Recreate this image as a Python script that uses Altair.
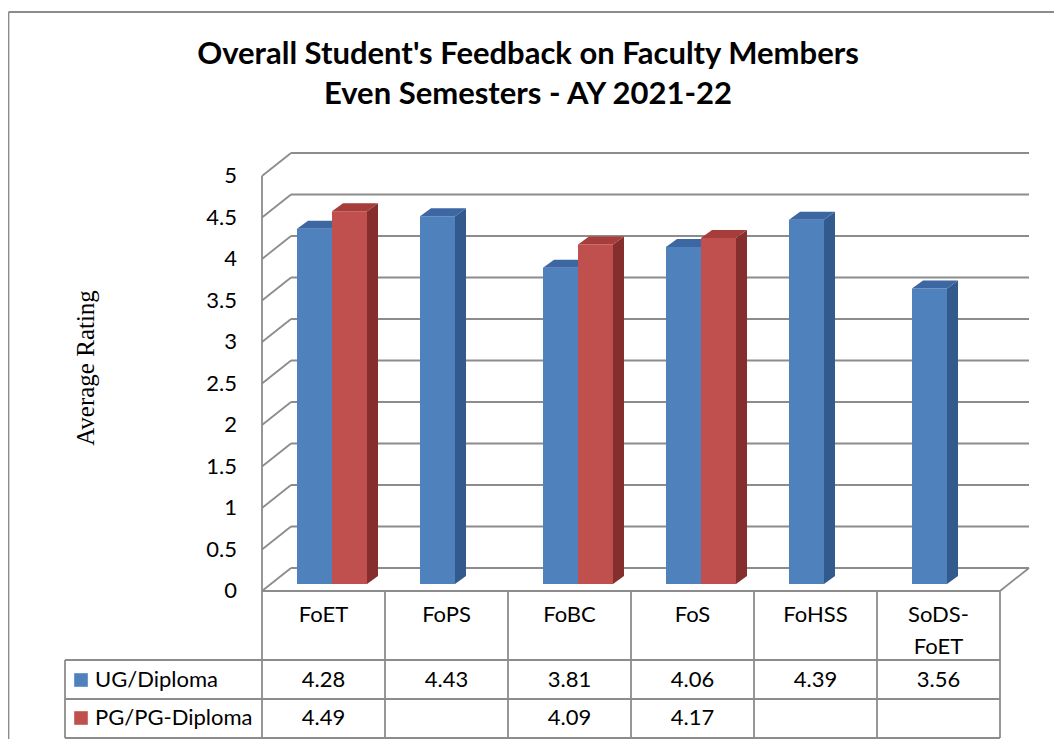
import altair as alt
import pandas as pd

# ---------------- data ----------------
categories = ["FoET", "FoPS", "FoBC", "FoS", "FoHSS", "SoDS-FoET"]
category_lines = [["FoET"], ["FoPS"], ["FoBC"], ["FoS"], ["FoHSS"], ["SoDS-", "FoET"]]
series = ["UG/Diploma", "PG/PG-Diploma"]
ug_values = [4.28, 4.43, 3.81, 4.06, 4.39, 3.56]
pg_values = [4.49, None, 4.09, 4.17, None, None]
y_ticks = [0, 0.5, 1, 1.5, 2, 2.5, 3, 3.5, 4, 4.5, 5]
y_tick_labels = ["0", "0.5", "1", "1.5", "2", "2.5", "3", "3.5", "4", "4.5", "5"]
title_lines = ["Overall Student's Feedback on Faculty Members", "Even Semesters - AY 2021-22"]
y_title = "Average Rating"

# ---------------- style ----------------
FRONT = {"UG/Diploma": "#4F81BD", "PG/PG-Diploma": "#C0504D"}
SIDE = {"UG/Diploma": "#325A8C", "PG/PG-Diploma": "#842F2D"}
TOP = {"UG/Diploma": "#3C67A2", "PG/PG-Diploma": "#A63D3A"}
GRID = "#8c8c8c"
FONT = "Lato"

W, H = 1046, 731
PX0, PY0 = 262.0, 591.0   # page position of the front-left floor corner
SU, SV = 123.0, 83.0      # pixels per category, pixels per rating unit


def u(px):
    return (px - PX0) / SU


def v(py):
    return (PY0 - py) / SV


XDOM = [u(8), u(8 + W)]
YDOM = [v(8 + H), v(8)]
BX, BY = 29 / SU, 23 / SV          # depth of the back wall
SLOT0, BW = 35 / SU, 35 / SU       # bar slot start / width inside a category
BASE = 7 / SV                      # bar base above the front floor edge
DU, DV = 11 / SU, 8 / SV           # bar depth
NCAT = len(categories)

xs = alt.Scale(domain=XDOM, nice=False, zero=False)
ys = alt.Scale(domain=YDOM, nice=False, zero=False)

# ---------------- lines ----------------
lines = []
for k in y_ticks:
    lines.append(dict(x=BX, x2=NCAT + BX, y=k + BY, y2=k + BY))   # back wall grid
    lines.append(dict(x=0, x2=BX, y=k, y2=k + BY))                 # side wall grid
lines.append(dict(x=0, x2=0, y=0, y2=y_ticks[-1]))                 # front-left edge
lines.append(dict(x=NCAT, x2=NCAT + BX, y=0, y2=BY))               # floor right edge
# table
row_tops = [v(660), v(699), v(738)]
left_col = u(65)
lines.append(dict(x=0, x2=NCAT, y=0, y2=0))
for r in row_tops:
    lines.append(dict(x=left_col, x2=NCAT, y=r, y2=r))
for i in range(NCAT + 1):
    lines.append(dict(x=i, x2=i, y=0, y2=row_tops[-1]))
lines.append(dict(x=left_col, x2=left_col, y=row_tops[0], y2=row_tops[-1]))
# outer frame
lines.append(dict(x=u(8.5), x2=XDOM[1], y=v(12), y2=v(12)))
lines.append(dict(x=u(8.5), x2=u(8.5), y=v(12), y2=YDOM[0]))
lines_df = pd.DataFrame(lines)

rules = alt.Chart(lines_df).mark_rule(color=GRID, strokeWidth=1.8).encode(
    x=alt.X("x:Q", scale=xs, axis=None), x2="x2:Q",
    y=alt.Y("y:Q", scale=ys, axis=None), y2="y2:Q",
)

# ---------------- y axis labels & title ----------------
ylab_df = pd.DataFrame({"y": y_ticks, "label": y_tick_labels, "x": [u(237)] * len(y_ticks)})
y_labels = alt.Chart(ylab_df).mark_text(font=FONT, fontSize=22, color="black", align="right", baseline="middle").encode(
    x=alt.X("x:Q", scale=xs, axis=None), y=alt.Y("y:Q", scale=ys, axis=None), text="label:N"
)
ytitle_df = pd.DataFrame({"x": [u(86)], "y": [v(368)], "label": [y_title]})
y_title_mark = alt.Chart(ytitle_df).mark_text(
    font="Liberation Serif", fontSize=25, color="black", angle=270, align="center", baseline="middle"
).encode(x=alt.X("x:Q", scale=xs, axis=None), y=alt.Y("y:Q", scale=ys, axis=None), text="label:N")

# ---------------- bars ----------------
def series_layers(s_idx):
    name = series[s_idx]
    vals = ug_values if s_idx == 0 else pg_values
    rects, polys = [], []
    for i, val in enumerate(vals):
        if val is None:
            continue
        x1 = i + SLOT0 + s_idx * BW
        x2 = x1 + BW
        top = val + BASE
        rects.append(dict(x=x1, x2=x2, y=BASE, y2=top, category=categories[i], value=val, series=name))
        sid = f"{name}-{i}-side"
        polys.append(dict(shape=sid, x=x2, y=BASE, y2=top, fill=SIDE[name]))
        polys.append(dict(shape=sid, x=x2 + DU, y=BASE + DV, y2=top + DV, fill=SIDE[name]))
        tid = f"{name}-{i}-top"
        polys.append(dict(shape=tid, x=x1, y=top, y2=top, fill=TOP[name]))
        polys.append(dict(shape=tid, x=x1 + DU, y=top, y2=top + DV, fill=TOP[name]))
        polys.append(dict(shape=tid, x=x2, y=top, y2=top + DV, fill=TOP[name]))
        polys.append(dict(shape=tid, x=x2 + DU, y=top + DV, y2=top + DV, fill=TOP[name]))
    front = alt.Chart(pd.DataFrame(rects)).mark_rect(color=FRONT[name]).encode(
        x=alt.X("x:Q", scale=xs, axis=None), x2="x2:Q",
        y=alt.Y("y:Q", scale=ys, axis=None, stack=None), y2="y2:Q",
        tooltip=["category:N", "series:N", "value:Q"],
    )
    faces = alt.Chart(pd.DataFrame(polys)).mark_area(opacity=1, interpolate="linear").encode(
        x=alt.X("x:Q", scale=xs, axis=None),
        y=alt.Y("y:Q", scale=ys, axis=None, stack=None), y2="y2:Q",
        detail="shape:N",
        color=alt.Color("fill:N", scale=None),
    )
    return [front, faces]

# ---------------- table texts ----------------
texts = []
for i, ls in enumerate(category_lines):
    for j, t in enumerate(ls):
        texts.append(dict(x=i + 0.5, y=v(615 + 32 * j), text=t))
row_centers = [v(680), v(718)]
for s_idx, vals in enumerate([ug_values, pg_values]):
    for i, val in enumerate(vals):
        if val is not None:
            texts.append(dict(x=i + 0.5, y=row_centers[s_idx], text=f"{val:.2f}"))
texts_df = pd.DataFrame(texts)
cell_text = alt.Chart(texts_df).mark_text(font=FONT, fontSize=22, color="black", align="center", baseline="middle").encode(
    x=alt.X("x:Q", scale=xs, axis=None), y=alt.Y("y:Q", scale=ys, axis=None), text="text:N"
)

legend_df = pd.DataFrame({
    "series": series,
    "x": [u(95)] * 2,
    "xs": [u(81)] * 2,
    "y": row_centers,
    "fill": [FRONT[s] for s in series],
})
legend_text = alt.Chart(legend_df).mark_text(font=FONT, fontSize=22, color="black", align="left", baseline="middle").encode(
    x=alt.X("x:Q", scale=xs, axis=None), y=alt.Y("y:Q", scale=ys, axis=None), text="series:N"
)
legend_sq = alt.Chart(legend_df).mark_square(size=185, opacity=1).encode(
    x=alt.X("xs:Q", scale=xs, axis=None), y=alt.Y("y:Q", scale=ys, axis=None),
    color=alt.Color("fill:N", scale=None),
)

layers = [rules, y_labels, y_title_mark] + series_layers(0) + series_layers(1) + [cell_text, legend_text, legend_sq]

chart = alt.layer(*layers).properties(
    width=W, height=H,
    autosize=alt.AutoSizeParams(type="none"),
    padding=0,
    background="white",
    title=alt.Title(
        text=title_lines, font=FONT, fontSize=31, fontWeight="bold", color="black",
        anchor="middle", frame="group", offset=0, baseline="alphabetic", lineHeight=40, dy=127, dx=-3,
    ),
).configure_view(stroke=None)

chart.save("out.html", embed_options={"renderer": "svg", "actions": False})
